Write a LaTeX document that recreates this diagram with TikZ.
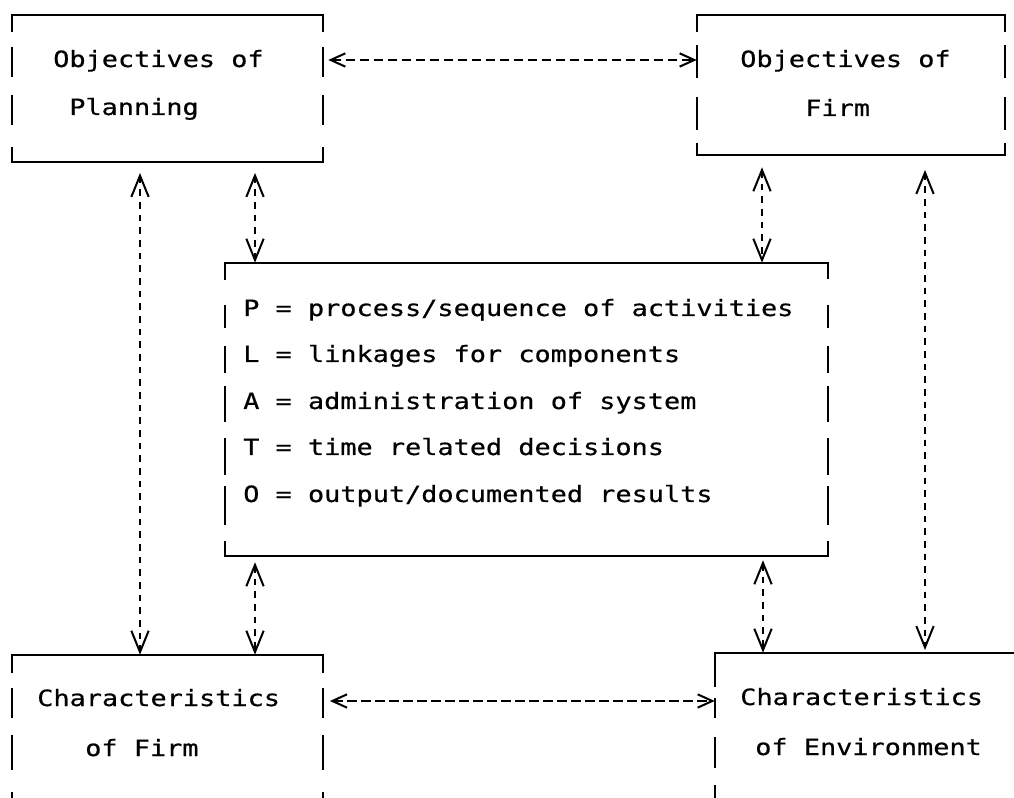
\documentclass[tikz,border=0pt]{standalone}
\usepackage{fontspec}
\setmonofont{DejaVu Sans Mono}[FakeStretch=1.2,FakeBold=0.5]
\usetikzlibrary{arrows.meta,fit}
\tikzset{
  vtip/.tip={Straight Barb[length=16pt,width=13pt,line width=1.5pt]},
  htip/.tip={Straight Barb[length=11pt,width=10pt,line width=1.5pt]},
}
\begin{document}
\begin{tikzpicture}[x=0.75pt,y=-0.75pt,
  rule/.style={line width=1.6pt, line join=miter},
  frame/.style={draw=none, inner sep=0pt},
  txt/.style={anchor=base west, inner sep=0pt, font=\ttfamily\fontsize{16.8}{20}\selectfont},
  vlink/.style={line width=1.3pt, dash pattern=on 5pt off 4.5pt, vtip-vtip},
  hlink/.style={line width=1.3pt, dash pattern=on 7pt off 3.5pt, htip-htip},
]
\clip (0,0) rectangle (1014,798);
\fill[white] (0,0) rectangle (1014,798);

% ---- box outlines (corner pieces + broken vertical sides)
\coordinate (tlA) at (12,15);   \coordinate (tlB) at (323,162);
\coordinate (trA) at (697,15);  \coordinate (trB) at (1005,155);
\coordinate (mdA) at (225,263); \coordinate (mdB) at (828,556);
\coordinate (blA) at (12,655);  \coordinate (blB) at (323,830);
\coordinate (brA) at (715,653); \coordinate (brB) at (1040,830);
\node[frame, fit=(tlA)(tlB)] (tl) {};
\node[frame, fit=(trA)(trB)] (tr) {};
\node[frame, fit=(mdA)(mdB)] (md) {};
\node[frame, fit=(blA)(blB)] (bl) {};
\node[frame, fit=(brA)(brB)] (br) {};

% Objectives of Planning
\draw[rule] (12,32) -- (12,15) -- (323,15) -- (323,32);
\draw[rule] (12,147) -- (12,162) -- (323,162) -- (323,147);
\foreach \a/\b in {47/77,95/125}
  {\draw[rule] (12,\a) -- (12,\b); \draw[rule] (323,\a) -- (323,\b);}

% Objectives of Firm
\draw[rule] (697,32) -- (697,15) -- (1005,15) -- (1005,32);
\draw[rule] (697,143) -- (697,155) -- (1005,155) -- (1005,143);
\foreach \a/\b in {45/78,97/130}
  {\draw[rule] (697,\a) -- (697,\b); \draw[rule] (1005,\a) -- (1005,\b);}

% component list
\draw[rule] (225,280) -- (225,263) -- (828,263) -- (828,279);
\draw[rule] (225,541) -- (225,556) -- (828,556) -- (828,541);
\foreach \a/\b in {305/328,346/373,386/422,438/475,486/525}
  {\draw[rule] (225,\a) -- (225,\b); \draw[rule] (828,\a) -- (828,\b);}

% Characteristics of Firm
\draw[rule] (12,673) -- (12,655) -- (323,655) -- (323,673);
\foreach \a/\b in {688/718,735/770,792/800}
  {\draw[rule] (12,\a) -- (12,\b); \draw[rule] (323,\a) -- (323,\b);}

% Characteristics of Environment
\draw[rule] (715,687) -- (715,653) -- (1020,653);
\foreach \a/\b in {698/718,737/768,785/800}
  {\draw[rule] (715,\a) -- (715,\b);}

% ---- texts
\node[txt] (t1) at (53,67)  {Objectives of};
\node[txt] (t2) at (69,115) {Planning};
\node[txt] (t3) at (740,67) {Objectives of};
\node[txt] (t4) at (805,116) {Firm};
\node[txt] (p1) at (243,316) {P = process/sequence of activities};
\node[txt] (p2) at (243,362) {L = linkages for components};
\node[txt] (p3) at (243,409) {A = administration of system};
\node[txt] (p4) at (243,455) {T = time related decisions};
\node[txt] (p5) at (243,502) {O = output/documented results};
\node[txt] (b1) at (37,706)  {Characteristics};
\node[txt] (b2) at (85,756)  {of Firm};
\node[txt] (b3) at (740,705) {Characteristics};
\node[txt] (b4) at (755,755) {of Environment};

% ---- connectors
\draw[hlink, shorten <=3.75pt] (tl.east |- 0,60) -- (tr.west |- 0,60);
\draw[hlink, shorten <=5pt] (bl.east |- 0,701) -- (br.west |- 0,701);

\draw[vlink, shorten <=8pt] (tl.south -| 140,0) -- (bl.north -| 140,0);
\draw[vlink, shorten <=8pt] (tl.south -| 255,0) -- (md.north -| 255,0);
\draw[vlink, shorten <=4.5pt] (md.south -| 255,0) -- (bl.north -| 255,0);
\draw[vlink, shorten <=9pt] (tr.south -| 762,0) -- (md.north -| 762,0);
\draw[vlink, shorten <=11pt, shorten >=2pt] (tr.south -| 925,0) -- (br.north -| 925,0);
\draw[vlink, shorten <=3pt] (md.south -| 763,0) -- (br.north -| 763,0);
\end{tikzpicture}
\end{document}
